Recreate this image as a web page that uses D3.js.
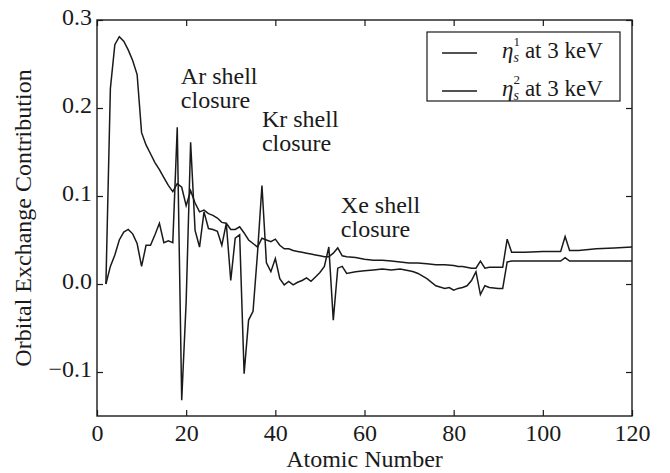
<!DOCTYPE html>
<html>
<head>
<meta charset="utf-8">
<script src="https://cdn.jsdelivr.net/npm/d3@7"></script>
<style>
  html, body { margin: 0; padding: 0; background: #fff; }
  svg { display: block; }
  text { font-family: "Liberation Serif", "Times New Roman", serif; fill: #1a1a1a; }
</style>
</head>
<body>
<svg id="chart" width="670" height="473"></svg>
<script>
// Orbital exchange contribution per atomic number, two estimators at 3 keV
const zEta1 = [2,3,4,5,6,7,8,9,10,11,12,13,14,15,16,17,18,19,20,21,22,23,24,25,26,27,28,29,30,
  31,32,33,34,35,36,37,38,39,40,41,42,43,44,45,46,47,48,49,50,51,52,53,54,55,56,58,60,62,64,66,
  68,70,72,74,76,78,80,81,82,84,85,86,87,88,90,91,92,93,96,100,104,105,106,108,112,116,120];
const eta1 = [0.0,0.222,0.272,0.281,0.276,0.266,0.254,0.238,0.172,0.158,0.148,0.138,0.130,0.121,
  0.112,0.105,0.114,0.110,0.089,0.106,0.092,0.082,0.084,0.080,0.078,0.075,0.070,0.069,0.062,
  0.062,0.065,0.058,0.050,0.046,0.042,0.052,0.050,0.048,0.051,0.044,0.040,0.040,0.038,0.037,
  0.036,0.035,0.034,0.033,0.032,0.031,0.031,0.035,0.041,0.032,0.031,0.030,0.028,0.027,0.027,
  0.026,0.025,0.024,0.024,0.023,0.022,0.022,0.021,0.020,0.020,0.018,0.018,0.026,0.018,0.019,
  0.019,0.019,0.051,0.036,0.036,0.037,0.037,0.054,0.038,0.038,0.040,0.041,0.042];

const zEta2 = [2,3,4,5,6,7,8,9,10,11,12,13,14,15,16,17,18,19,20,21,22,23,24,25,26,27,28,29,30,
  31,32,33,34,35,36,37,38,39,40,41,42,43,44,45,46,47,48,49,50,51,52,53,54,55,56,58,60,62,64,66,
  68,70,71,72,74,76,78,79,80,81,82,83,84,85,86,87,88,90,91,92,93,100,104,105,106,112,120];
const eta2 = [0.0,0.020,0.033,0.050,0.059,0.062,0.057,0.046,0.020,0.044,0.044,0.056,0.069,0.047,
  0.049,0.047,0.178,-0.132,-0.020,0.161,0.061,0.042,0.082,0.063,0.062,0.060,0.044,0.069,0.004,
  0.052,0.056,-0.102,-0.041,-0.031,0.035,0.112,0.024,0.014,0.029,0.006,-0.001,0.003,-0.001,
  0.002,0.004,0.007,0.003,0.008,0.013,0.020,0.042,-0.041,0.018,0.020,0.012,0.014,0.015,0.016,
  0.017,0.016,0.017,0.015,0.014,0.012,0.006,-0.002,-0.005,-0.004,-0.007,-0.005,-0.004,-0.002,
  0.004,0.014,-0.012,-0.002,-0.004,-0.005,-0.005,0.025,0.026,0.026,0.026,0.030,0.026,0.026,0.026];

const xTicks = [0, 20, 40, 60, 80, 100, 120];
const yTicks = [-0.1, 0.0, 0.1, 0.2, 0.3];
const seriesNames = ["1", "2"];
const shellLabels = [
  { lines: ["Ar shell", "closure"], z: 18.8, v: 0.227 },
  { lines: ["Kr shell", "closure"], z: 37.0, v: 0.178 },
  { lines: ["Xe shell", "closure"], z: 54.7, v: 0.081 }
];

const W = 670, H = 473;
const margin = { left: 97, right: 38, top: 20, bottom: 57 };
const innerW = W - margin.left - margin.right;
const innerH = H - margin.top - margin.bottom;
const FS = 24;
const ink = "#1a1a1a";

const svg = d3.select("#chart");
const g = svg.append("g").attr("transform", `translate(${margin.left},${margin.top})`);

const x = d3.scaleLinear().domain([0, 120]).range([0, innerW]);
const y = d3.scaleLinear().domain([-0.15, 0.3]).range([innerH, 0]);

const fmtY = d3.format(".1f");
const tickLen = 6;

// axes with inward ticks on all four sides
const axB = g.append("g").attr("transform", `translate(0,${innerH})`)
  .call(d3.axisBottom(x).tickValues(xTicks).tickSize(-tickLen).tickPadding(8).tickFormat(d3.format("d")));
const axT = g.append("g")
  .call(d3.axisTop(x).tickValues(xTicks).tickSize(-tickLen).tickFormat(""));
const axL = g.append("g")
  .call(d3.axisLeft(y).tickValues(yTicks).tickSize(-tickLen).tickPadding(5).tickFormat(fmtY));
const axR = g.append("g").attr("transform", `translate(${innerW},0)`)
  .call(d3.axisRight(y).tickValues(yTicks).tickSize(-tickLen).tickFormat(""));

[axB, axT, axL, axR].forEach(a => {
  a.select(".domain").remove();
  a.selectAll(".tick line").attr("stroke", ink).attr("stroke-width", 1.2);
  a.selectAll(".tick text").attr("font-size", FS).attr("font-family", "Liberation Serif").attr("fill", ink);
});
axL.selectAll(".tick text").attr("dy", "0.2em");

// curves
const line = d3.line().x(d => x(d[0])).y(d => y(d[1]));
const series = [d3.zip(zEta1, eta1), d3.zip(zEta2, eta2)];
g.append("g").selectAll("path").data(series).join("path")
  .attr("d", line)
  .attr("fill", "none")
  .attr("stroke", ink)
  .attr("stroke-width", 1.5)
  .attr("stroke-linejoin", "miter");

// frame
g.append("rect").attr("x", 0).attr("y", 0).attr("width", innerW).attr("height", innerH)
  .attr("fill", "none").attr("stroke", ink).attr("stroke-width", 1.4);

// shell closure annotations
shellLabels.forEach(s => {
  const t = g.append("text").attr("x", x(s.z)).attr("y", y(s.v)).attr("font-size", FS);
  s.lines.forEach((ln, i) => {
    t.append("tspan").attr("x", x(s.z)).attr("dy", i === 0 ? 0 : 24).text(ln);
  });
});

// axis titles
svg.append("text").attr("x", margin.left + innerW / 2).attr("y", H - 6)
  .attr("text-anchor", "middle").attr("font-size", FS).text("Atomic Number");
svg.append("text")
  .attr("transform", `translate(31,${margin.top + innerH / 2}) rotate(-90)`)
  .attr("text-anchor", "middle").attr("font-size", FS).text("Orbital Exchange Contribution");

// legend
const lg = svg.append("g").attr("transform", "translate(427,32)");
lg.append("rect").attr("width", 193).attr("height", 69)
  .attr("fill", "#fff").attr("stroke", ink).attr("stroke-width", 1.2);
seriesNames.forEach((n, i) => {
  const cy = 21 + i * 38;
  lg.append("line").attr("x1", 15).attr("x2", 50).attr("y1", cy).attr("y2", cy)
    .attr("stroke", ink).attr("stroke-width", 1.5);
  const t = lg.append("text").attr("x", 75).attr("y", cy + 5).attr("font-size", 23);
  t.append("tspan").attr("font-style", "italic").text("\u03B7");
  t.append("tspan").attr("font-size", 13).attr("dy", -12).text(n);
  t.append("tspan").attr("font-size", 14).attr("font-style", "italic")
    .attr("dx", -6.5).attr("dy", 16).text("s");
  t.append("tspan").attr("dy", -4).attr("dx", 6).text("at 3 keV");
});
</script>
</body>
</html>
